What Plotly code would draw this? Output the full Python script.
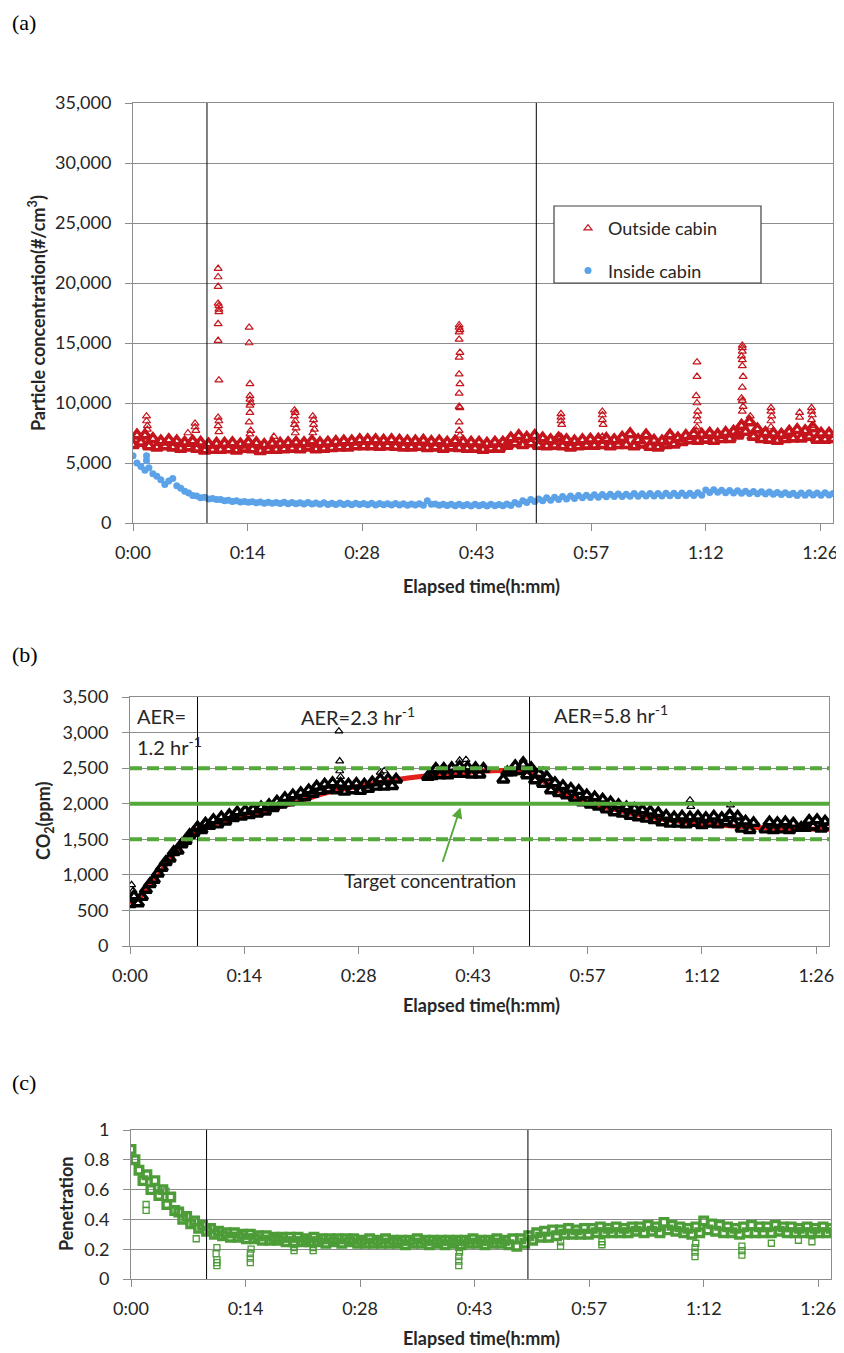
import plotly.graph_objects as go

# page: 844 x 1353 viewport; the html body has an 8px margin, so the figure is
# made 8px smaller and every position below is given in viewport pixels.
OFF = 8
W, H = 844 - OFF, 1353 - OFF

# ---------------- data ----------------
# sampling times (minutes) : every 0.5 min, 0 .. 88
t = [i / 2 for i in range(177)]

tick_min = [0, 14.4, 28.8, 43.2, 57.6, 72.0, 86.4]
tick_labels = ["0:00", "0:14", "0:28", "0:43", "0:57", "1:12", "1:26"]

# (a) particle concentration, #/cm3 (alternating low/high readings of the noisy band)
outside_band = [
    6500, 7300, 6700, 7300, 6400, 7000, 6300, 6800, 6400, 6900,
    6300, 6800, 6200, 6700, 6300, 6800, 6200, 6700, 6050, 6550,
    6100, 6600, 6100, 6600, 6150, 6650, 6050, 6550, 6200, 6700,
    6150, 6650, 6000, 6500, 6100, 6600, 6100, 6600, 6150, 6650,
    6200, 6700, 6150, 6650, 6300, 6800, 6150, 6650, 6200, 6700,
    6250, 6750, 6300, 6800, 6300, 6800, 6400, 6900, 6400, 6900,
    6400, 6900, 6350, 6850, 6400, 6900, 6350, 6850, 6300, 6800,
    6300, 6800, 6350, 6850, 6250, 6750, 6300, 6800, 6200, 6700,
    6300, 6800, 6250, 6750, 6200, 6700, 6200, 6700, 6100, 6600,
    6200, 6700, 6200, 6700, 6450, 7050, 6650, 7250, 6500, 7100,
    6650, 7250, 6450, 7050, 6400, 6900, 6450, 7050, 6400, 6900,
    6300, 6800, 6400, 6900, 6450, 6950, 6450, 6950, 6500, 7000,
    6400, 6900, 6500, 7100, 6500, 7400, 6400, 6900, 6550, 7300,
    6350, 6850, 6300, 6800, 6500, 7300, 6550, 7050, 6750, 7250,
    6900, 7400, 6850, 7350, 6950, 7450, 6850, 7350, 7000, 7500,
    7000, 7600, 7300, 8100, 7600, 8400, 7200, 7800, 7000, 7500,
    6950, 7450, 6850, 7350, 7000, 7600, 7050, 7750, 7050, 7650,
    7200, 7900, 6950, 7450, 6950, 7450, 7000,
]
outside_spike_t = [
    1.7, 1.7, 1.8, 1.8, 6.9, 7.8, 7.8, 7.9,
    10.7, 10.7, 10.7, 10.7, 10.8, 10.8, 10.8, 10.7, 10.7, 10.8, 10.7, 10.8, 10.7, 10.8,
    14.6, 14.6, 14.7, 14.7, 14.7, 14.8, 14.7, 14.7, 14.6, 14.8, 14.7,
    17.7,
    20.3, 20.4, 20.3, 20.4, 20.3, 20.5, 20.4,
    22.6, 22.7, 22.7, 22.8, 22.6,
    41.0, 41.0, 41.1, 41.0, 41.0, 41.1, 41.0, 41.0, 41.1, 41.0, 41.0, 41.1, 41.0, 41.0, 41.1,
    53.8, 53.8, 53.8, 53.9, 53.8,
    59.0, 59.0, 59.0, 59.1, 59.0,
    70.9, 70.9, 70.8, 70.9, 71.0, 70.9, 71.0, 70.9, 70.8,
    76.6, 76.6, 76.6, 76.5, 76.6, 76.6, 76.7, 76.6, 76.5, 76.6, 76.7, 76.6, 77.6,
    80.2, 80.2, 80.3, 80.2, 80.2,
    83.8, 83.8, 85.3, 85.3, 85.4, 85.3, 85.3,
]
outside_spike_v = [
    8900, 8500, 8100, 7800, 7500, 8300, 8000, 7700,
    21200, 20500, 19700, 18300, 18100, 17800, 17600, 16600, 15200, 11900, 8800, 8500, 8100, 7600,
    16300, 15000, 11600, 10600, 10300, 10000, 9800, 9200, 8400, 7700, 7400,
    7200,
    9400, 9200, 8900, 8500, 8200, 7900, 7500,
    8900, 8600, 8200, 7800, 7500,
    16500, 16300, 16100, 15900, 15300, 14200, 13800, 12400, 11600, 10800, 9700, 9600, 8400, 7700, 7300,
    9100, 8800, 8500, 8200, 7200,
    9300, 9000, 8600, 8200, 7200,
    13400, 12200, 10600, 10000, 9300, 8900, 8500, 8000, 7700,
    14800, 14600, 14300, 13900, 13600, 13100, 12200, 11300, 10400, 10200, 9700, 9300, 8900,
    9600, 9300, 8900, 8500, 8000,
    9200, 8800, 9600, 9300, 9000, 8600, 8100,
]
inside_band = [
    5600, 5000, 4700, 4400, 4600, 4100, 3900, 3600, 3200, 3500,
    3700, 3100, 2900, 2650, 2500, 2300, 2250, 2100, 2150, 2000,
    2050, 1950, 1950, 1850, 1900, 1800, 1850, 1750, 1800, 1720,
    1780, 1680, 1760, 1650, 1720, 1640, 1700, 1620, 1720, 1600,
    1700, 1600, 1680, 1580, 1700, 1580, 1660, 1560, 1680, 1550,
    1650, 1550, 1660, 1540, 1650, 1530, 1640, 1540, 1620, 1520,
    1640, 1510, 1620, 1520, 1600, 1500, 1620, 1500, 1600, 1480,
    1590, 1500, 1600, 1480, 1850, 1560, 1580, 1470, 1570, 1460,
    1560, 1440, 1560, 1430, 1550, 1420, 1560, 1430, 1540, 1420,
    1560, 1440, 1550, 1430, 1580, 1460, 1700, 1560, 1850, 1700,
    1950, 1800, 2000, 1850, 2100, 1900, 2150, 1950, 2200, 2000,
    2250, 2050, 2300, 2100, 2320, 2120, 2350, 2150, 2380, 2180,
    2400, 2200, 2420, 2200, 2400, 2220, 2450, 2230, 2430, 2240,
    2460, 2250, 2450, 2260, 2480, 2270, 2470, 2280, 2500, 2300,
    2480, 2290, 2520, 2320, 2750, 2550, 2780, 2560, 2720, 2520,
    2700, 2500, 2680, 2480, 2650, 2450, 2620, 2440, 2600, 2420,
    2580, 2400, 2550, 2380, 2520, 2350, 2480, 2300, 2500, 2320,
    2520, 2330, 2500, 2320, 2520, 2330, 2450,
]
inside_extra_t = [1.7, 1.7]
inside_extra_v = [5600, 5200]

# (b) CO2, ppm
co2_band = [
    590, 700, 600, 690, 790, 870, 930, 1020, 1100, 1180,
    1230, 1320, 1340, 1430, 1480, 1560, 1590, 1670, 1630, 1720,
    1690, 1770, 1710, 1810, 1750, 1840, 1800, 1880, 1820, 1900,
    1840, 1920, 1860, 1950, 1890, 1980, 1940, 2030, 1990, 2080,
    2020, 2120, 2050, 2150, 2090, 2190, 2140, 2240, 2180, 2270,
    2200, 2290, 2190, 2280, 2170, 2270, 2190, 2280, 2180, 2270,
    2210, 2300, 2240, 2340, 2240, 2340, 2250, 2340, None, None,
    None, None, None, None, None, 2380, 2390, 2490, 2400, 2490,
    2400, 2500, 2420, 2520, 2420, 2510, 2410, 2500, 2410, 2490,
    None, None, None, None, 2340, 2440, 2440, 2530, 2460, 2550,
    2400, 2500, 2330, 2420, 2280, 2370, 2190, 2290, 2150, 2250,
    2120, 2210, 2080, 2180, 2020, 2120, 1990, 2090, 1960, 2060,
    1920, 2020, 1880, 1980, 1860, 1950, 1830, 1930, 1810, 1910,
    1790, 1890, 1770, 1870, 1740, 1830, 1720, 1810, 1720, 1820,
    1710, 1810, 1730, 1820, 1700, 1800, 1720, 1820, 1710, 1800,
    1740, 1840, 1720, 1820, 1650, 1750, 1630, 1730, None, None,
    1640, 1740, 1630, 1730, 1640, 1740, 1630, 1720, None, 1660,
    1660, 1760, 1680, 1770, 1650, 1750, 1680,
]
co2_extra_t = [0.2, 0.4, 26.3, 26.4, 26.4, 26.5, 31.5, 32.0, 41.5, 42.3, 49.5, 52.0, 70.5, 70.6, 75.6]
co2_extra_v = [860, 780, 3020, 2600, 2460, 2380, 2440, 2460, 2610, 2620, 2620, 2470, 2050, 1960, 1980]
co2_fit_t = [0, 1.3, 2.5, 3.8, 5, 6.5, 8.4, 10, 15, 20, 25, 30, 35, 40, 45, 48.5, 50.3, 52, 55.5, 60, 66, 72, 78, 88]
co2_fit_v = [600, 690, 860, 1030, 1220, 1420, 1630, 1700, 1850, 1990, 2160, 2270, 2360, 2420, 2460, 2470, 2440, 2320, 2100, 1950, 1800, 1720, 1670, 1640]
target_levels = [1500, 2000, 2500]
target_dash = ["12px,5px", "solid", "12px,5px"]

# (c) penetration
pen_band = [
    0.87, 0.80, 0.73, 0.66, 0.70, 0.60, 0.66, 0.56, 0.60, 0.50,
    0.55, 0.46, 0.45, 0.40, 0.42, 0.37, 0.39, 0.34, 0.36, 0.32,
    0.34, 0.30, 0.32, 0.29, 0.31, 0.28, 0.31, 0.28, 0.30, 0.27,
    0.30, 0.27, 0.29, 0.26, 0.29, 0.26, 0.28, 0.26, 0.28, 0.25,
    0.28, 0.25, 0.28, 0.25, 0.27, 0.25, 0.28, 0.25, 0.27, 0.24,
    0.27, 0.25, 0.27, 0.24, 0.27, 0.25, 0.27, 0.24, 0.26, 0.24,
    0.27, 0.24, 0.26, 0.24, 0.27, 0.24, 0.26, 0.24, 0.26, 0.23,
    0.26, 0.24, 0.27, 0.24, 0.26, 0.23, 0.26, 0.24, 0.26, 0.23,
    0.26, 0.24, 0.26, 0.23, 0.26, 0.24, 0.27, 0.24, 0.26, 0.23,
    0.26, 0.24, 0.27, 0.24, 0.26, 0.23, 0.27, 0.22, 0.27, 0.24,
    0.29, 0.26, 0.31, 0.28, 0.32, 0.28, 0.33, 0.29, 0.33, 0.30,
    0.34, 0.30, 0.33, 0.30, 0.34, 0.30, 0.34, 0.31, 0.35, 0.31,
    0.34, 0.31, 0.35, 0.31, 0.34, 0.31, 0.35, 0.32, 0.35, 0.31,
    0.36, 0.32, 0.35, 0.31, 0.38, 0.33, 0.36, 0.32, 0.35, 0.31,
    0.34, 0.30, 0.35, 0.31, 0.39, 0.33, 0.37, 0.32, 0.36, 0.31,
    0.35, 0.31, 0.34, 0.30, 0.35, 0.31, 0.36, 0.31, 0.35, 0.31,
    0.35, 0.31, 0.36, 0.32, 0.35, 0.31, 0.35, 0.31, 0.34, 0.31,
    0.35, 0.31, 0.34, 0.31, 0.35, 0.31, 0.34,
]
pen_extra_t = [1.9, 1.9, 4.2, 4.4, 8.2, 10.8, 10.8, 10.8, 10.7, 10.8, 15.0, 15.0, 15.0, 15.1,
               20.5, 20.5, 22.9, 22.9, 41.2, 41.2, 41.2, 41.3, 41.2, 54.0, 54.0, 59.2, 59.2,
               70.9, 70.9, 70.9, 71.0, 76.8, 76.8, 76.8, 80.5, 83.9, 85.6]
pen_extra_v = [0.46, 0.50, 0.60, 0.59, 0.27, 0.09, 0.11, 0.13, 0.17, 0.21, 0.11, 0.14, 0.17, 0.20,
               0.19, 0.21, 0.19, 0.21, 0.09, 0.12, 0.15, 0.18, 0.21, 0.22, 0.25, 0.23, 0.25,
               0.15, 0.18, 0.21, 0.24, 0.16, 0.19, 0.22, 0.24, 0.26, 0.25]

# period boundaries (minutes) per panel
bounds_a = [9.3, 50.7]
bounds_b = [8.5, 50.3]
bounds_c = [9.5, 49.9]

# ---------------- style ----------------
RED = "#c4141c"
BLUE = "#5ba2e8"
GREEN = "#4c9c37"
LGREEN = "#55a83a"
FIT_RED = "#e3201b"
GRID = "#8c8c8c"
FONT = "Lato"
TXT = "#262626"


def pxx(p):
    return (p - OFF) / W


def pxy(p):
    return 1 - (p - OFF) / H


fig = go.Figure()

# (a) outside cabin: dense band + sparse peaks (same series)
fig.add_trace(go.Scatter(
    x=t, y=outside_band, mode="markers", showlegend=False, legendgroup="g1",
    marker=dict(symbol="triangle-up-open", size=10, color=RED, line=dict(width=3.6, color=RED)),
    xaxis="x", yaxis="y"))
fig.add_trace(go.Scatter(
    x=outside_spike_t, y=outside_spike_v, mode="markers",
    name="Outside cabin", legendgroup="g1",
    marker=dict(symbol="triangle-up-open", size=7, color=RED, line=dict(width=1.2, color=RED)),
    xaxis="x", yaxis="y"))
fig.add_trace(go.Scatter(
    x=t + inside_extra_t, y=inside_band + inside_extra_v, mode="markers",
    name="Inside cabin", legendgroup="g2",
    marker=dict(symbol="circle", size=7, color=BLUE),
    xaxis="x", yaxis="y"))

# (b)
fig.add_trace(go.Scatter(
    x=co2_fit_t, y=co2_fit_v, mode="lines", showlegend=False,
    line=dict(color=FIT_RED, width=5, shape="spline"), xaxis="x2", yaxis="y2"))
fig.add_trace(go.Scatter(
    x=t, y=co2_band, mode="markers", showlegend=False,
    marker=dict(symbol="triangle-up-open", size=10, color="black", line=dict(width=3.4, color="black")),
    xaxis="x2", yaxis="y2"))
fig.add_trace(go.Scatter(
    x=co2_extra_t, y=co2_extra_v, mode="markers", showlegend=False,
    marker=dict(symbol="triangle-up-open", size=7, color="black", line=dict(width=1.2, color="black")),
    xaxis="x2", yaxis="y2"))

# (c)
fig.add_trace(go.Scatter(
    x=t, y=pen_band, mode="markers", showlegend=False,
    marker=dict(symbol="square-open", size=7.5, color=GREEN, line=dict(width=3.4, color=GREEN)),
    xaxis="x3", yaxis="y3"))
fig.add_trace(go.Scatter(
    x=pen_extra_t, y=pen_extra_v, mode="markers", showlegend=False,
    marker=dict(symbol="square-open", size=6, color=GREEN, line=dict(width=1.3, color=GREEN)),
    xaxis="x3", yaxis="y3"))

tickfont = dict(family=FONT, size=18, color=TXT)
xcommon = dict(range=[0, 88], tickvals=tick_min, ticktext=tick_labels, showgrid=False,
               zeroline=False, showline=True, linecolor=GRID, linewidth=1, mirror=True,
               ticks="outside", ticklen=7, tickcolor=GRID, tickfont=tickfont,
               ticklabelstandoff=6, fixedrange=True, automargin=False)
ycommon = dict(showgrid=True, gridcolor=GRID, gridwidth=1, zeroline=False, showline=True,
               linecolor=GRID, linewidth=1, mirror=True, ticks="outside", ticklen=7,
               tickcolor=GRID, tickfont=tickfont, ticklabelstandoff=10, fixedrange=True,
               automargin=False)

fig.update_layout(
    template="none",
    width=W, height=H, margin=dict(l=0, r=0, t=0, b=0, pad=0),
    paper_bgcolor="white", plot_bgcolor="white",
    font=dict(family=FONT, color=TXT),
    xaxis=dict(xcommon, domain=[pxx(133), pxx(833)], anchor="y"),
    yaxis=dict(ycommon, domain=[pxy(523), pxy(103)], range=[0, 35000], dtick=5000,
               tickformat=",d", anchor="x"),
    xaxis2=dict(xcommon, domain=[pxx(130), pxx(829)], anchor="y2"),
    yaxis2=dict(ycommon, domain=[pxy(946), pxy(697)], range=[0, 3500], dtick=500,
                tickformat=",d", anchor="x2"),
    xaxis3=dict(xcommon, domain=[pxx(131), pxx(831)], anchor="y3"),
    yaxis3=dict(ycommon, domain=[pxy(1279), pxy(1130)], range=[0, 1],
                tickvals=[0, 0.2, 0.4, 0.6, 0.8, 1], ticktext=["0", "0.2", "0.4", "0.6", "0.8", "1"],
                anchor="x3"),
    legend=dict(x=pxx(568), y=pxy(210), xanchor="left", yanchor="top",
                bgcolor="rgba(0,0,0,0)", borderwidth=0, traceorder="grouped",
                tracegroupgap=16, itemwidth=30,
                font=dict(family=FONT, size=18, color=TXT)),
    showlegend=True,
)

shapes = []
# legend frame
shapes.append(dict(type="rect", xref="paper", yref="paper", x0=pxx(554), x1=pxx(761),
                   y0=pxy(283), y1=pxy(206), line=dict(color="#404040", width=1.2),
                   fillcolor="white", layer="above"))
for xa, ya, bl in (("x", "y", bounds_a), ("x2", "y2", bounds_b), ("x3", "y3", bounds_c)):
    for b in bl:
        shapes.append(dict(type="line", xref=xa, yref=ya + " domain", x0=b, x1=b, y0=0, y1=1,
                           line=dict(color="black", width=1), layer="above"))
for lev, dsh in zip(target_levels, target_dash):
    shapes.append(dict(type="line", xref="x2 domain", yref="y2", x0=0, x1=1, y0=lev, y1=lev,
                       line=dict(color=LGREEN, width=4, dash=dsh), layer="above"))
fig.update_layout(shapes=shapes)

ann = []
serif = dict(family="Liberation Serif", size=22, color="black")
for lab, yy in (("(a)", 22), ("(b)", 654), ("(c)", 1082)):
    ann.append(dict(text=lab, x=pxx(10), y=pxy(yy), xref="paper", yref="paper",
                    xanchor="left", yanchor="middle", showarrow=False, font=serif))
tfont = dict(family=FONT, size=18, color=TXT, weight="bold")
for yy in (586, 1005, 1338):
    ann.append(dict(text="Elapsed time(h:mm)", x=pxx(481), y=pxy(yy), xref="paper", yref="paper",
                    xanchor="center", yanchor="middle", showarrow=False, font=tfont))
for txt, xx, yy in (("Particle concentration(#/cm<sup>3</sup>)", 37, 313),
                    ("CO<sub>2</sub>(ppm)", 44, 821),
                    ("Penetration", 66, 1204)):
    ann.append(dict(text=txt, x=pxx(xx), y=pxy(yy), xref="paper", yref="paper", textangle=-90,
                    xanchor="center", yanchor="middle", showarrow=False, font=tfont))
afont = dict(family=FONT, size=20, color=TXT)
for txt, xx, yy in (("AER=", 135, 716), ("1.2 hr<sup>-1</sup>", 135, 746),
                    ("AER=2.3 hr<sup>-1</sup>", 299, 716), ("AER=5.8 hr<sup>-1</sup>", 552, 714)):
    ann.append(dict(text=txt, x=pxx(xx), y=pxy(yy), xref="paper", yref="paper",
                    xanchor="left", yanchor="middle", showarrow=False, font=afont))
ann.append(dict(text="Target concentration", x=pxx(430), y=pxy(880), xref="paper", yref="paper",
                xanchor="center", yanchor="middle", showarrow=False,
                font=dict(family=FONT, size=19, color=TXT)))
ann.append(dict(text="", x=41.6, y=1947, xref="x2", yref="y2", ax=39.3, ay=1161,
                axref="x2", ayref="y2", showarrow=True, arrowhead=2, arrowsize=1.2,
                arrowwidth=1.8, arrowcolor=LGREEN))
fig.update_layout(annotations=ann)

fig.write_html("out.html")
